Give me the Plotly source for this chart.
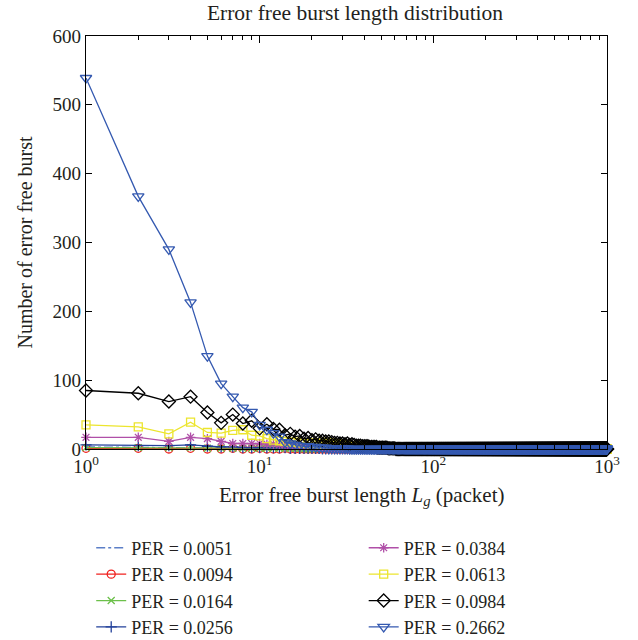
import plotly.graph_objects as go

N = 1000
burst_len = list(range(1, N + 1))

def pad(vals):
    return vals + [0] * (N - len(vals))

per_labels = ["PER = 0.0051", "PER = 0.0094", "PER = 0.0164", "PER = 0.0256",
              "PER = 0.0384", "PER = 0.0613", "PER = 0.0984", "PER = 0.2662"]

per_0051 = [3, 2, 2, 1, 1, 1, 1, 1, 1, 1, 1, 1]
per_0094 = [1, 1, 0, 1, 0, 0, 1, 0, 0, 1, 0, 0, 0, 1]
per_0164 = [2, 2, 2, 2, 1, 1, 1, 1, 1, 1, 1, 1, 1, 1, 1, 1, 1]
per_0256 = [6, 5, 5, 6, 4, 3, 3, 2, 2, 2, 2, 2, 2, 2, 1, 1, 1, 1, 1, 1, 1, 1]
per_0384 = [17, 17, 11, 17, 15, 11, 8, 8, 8, 8, 7, 7, 6, 6, 5, 5, 5, 4, 4, 4,
            3, 3, 3, 3, 3, 2, 2, 2, 2, 2, 2, 2, 1, 1, 1, 1, 1, 1, 1, 1]
per_0613 = [35, 32, 22, 39, 24, 23, 27, 28, 20, 19, 15, 13, 12, 11, 10, 10, 9, 9, 8, 8,
            9, 7, 8, 10, 7, 9, 6, 8, 6, 7, 5, 6, 5, 5, 4, 5, 4, 4, 3, 4,
            3, 3, 3, 2, 3, 2, 2, 2, 2, 4, 2, 2, 1, 2, 1, 1, 1, 1, 1, 1]
per_0984 = [85, 81, 69, 76, 53, 38, 50, 37, 41, 30, 36, 29, 28, 20, 22, 18, 19, 15, 16, 13,
            14, 12, 12, 11, 11, 10, 9, 9, 8, 8, 7, 8, 6, 7, 6, 5, 5, 5, 4, 4,
            4, 4, 3, 3, 3, 3, 3, 2, 2, 2, 2, 2, 2, 2, 1, 1, 1, 1, 1, 1]
per_2662 = [539, 367, 290, 213, 135, 95, 76, 60, 54, 35, 28, 23, 18, 10, 8, 6, 5, 4, 4, 3,
            3, 2, 2, 2, 1, 1, 1, 1, 1, 1, 1, 1]

series = [per_0051, per_0094, per_0164, per_0256, per_0384, per_0613, per_0984, per_2662]
colors = ["#5c7fc7", "#f0201e", "#6cc04a", "#22409a", "#b04fa8", "#ece52e", "#000000", "#3459b0"]
symbols = [None, "circle-open", "x-thin-open", "cross-thin-open", "asterisk-open",
           "square-open", "diamond-open", "triangle-down-open"]
msizes = [0, 8, 7, 8, 8, 8, 10, 10]
legends = ["legend"] * 4 + ["legend2"] * 4

FONT = "Liberation Serif, Times New Roman, serif"

fig = go.Figure()
for i, (vals, lab) in enumerate(zip(series, per_labels)):
    if symbols[i] is None:
        fig.add_trace(go.Scatter(
            x=burst_len, y=pad(vals), mode="lines", name=lab,
            line=dict(color=colors[i], width=1.3, dash="dashdot"),
            legend=legends[i], cliponaxis=False))
    else:
        fig.add_trace(go.Scatter(
            x=burst_len, y=pad(vals), mode="lines+markers", name=lab,
            line=dict(color=colors[i], width=1.3),
            marker=dict(symbol=symbols[i], size=msizes[i], color=colors[i],
                        line=dict(color=colors[i], width=1.3)),
            legend=legends[i], cliponaxis=False))

minor_vals = [m * 10 ** e for e in range(3) for m in range(2, 10)]

fig.update_layout(
    width=638, height=640,
    margin=dict(l=86, r=31, t=36, b=191, autoexpand=False),
    paper_bgcolor="white", plot_bgcolor="white",
    font=dict(family=FONT, size=19, color="#231f20"),
    title=dict(text="Error free burst length distribution", x=355 / 638, xanchor="center",
               y=1 - 12 / 640, yanchor="middle", font=dict(size=21.5)),
    xaxis=dict(type="log", range=[0, 3],
               tickvals=[1, 10, 100, 1000],
               ticktext=["10<sup>0</sup>", "10<sup>1</sup>", "10<sup>2</sup>", "10<sup>3</sup>"],
               ticks="inside", ticklen=7, tickcolor="black",
               minor=dict(tickvals=minor_vals, ticks="inside", ticklen=4, tickcolor="black",
                          showgrid=False),
               showline=True, linecolor="black", linewidth=1.3, mirror="ticks",
               showgrid=False, zeroline=False),
    yaxis=dict(range=[0, 600], tickvals=[0, 100, 200, 300, 400, 500, 600],
               ticks="inside", ticklen=6, tickcolor="black",
               showline=True, linecolor="black", linewidth=1.3, mirror="ticks",
               showgrid=False, zeroline=False,
               title=dict(text="Number of error free burst", standoff=14, font=dict(size=20))),
    annotations=[dict(text="Error free burst length <i>L<sub>g</sub></i> (packet)",
                      xref="paper", yref="paper", x=(362 - 86) / 521, y=(449 - 496) / 413,
                      xanchor="center", yanchor="middle", showarrow=False,
                      font=dict(size=21))],
    legend=dict(x=0.01, y=-0.195, xanchor="left", yanchor="top",
                bgcolor="rgba(0,0,0,0)", font=dict(size=18), traceorder="normal"),
    legend2=dict(x=0.533, y=-0.195, xanchor="left", yanchor="top",
                 bgcolor="rgba(0,0,0,0)", font=dict(size=18), traceorder="normal"),
)

fig.write_html("out.html")
